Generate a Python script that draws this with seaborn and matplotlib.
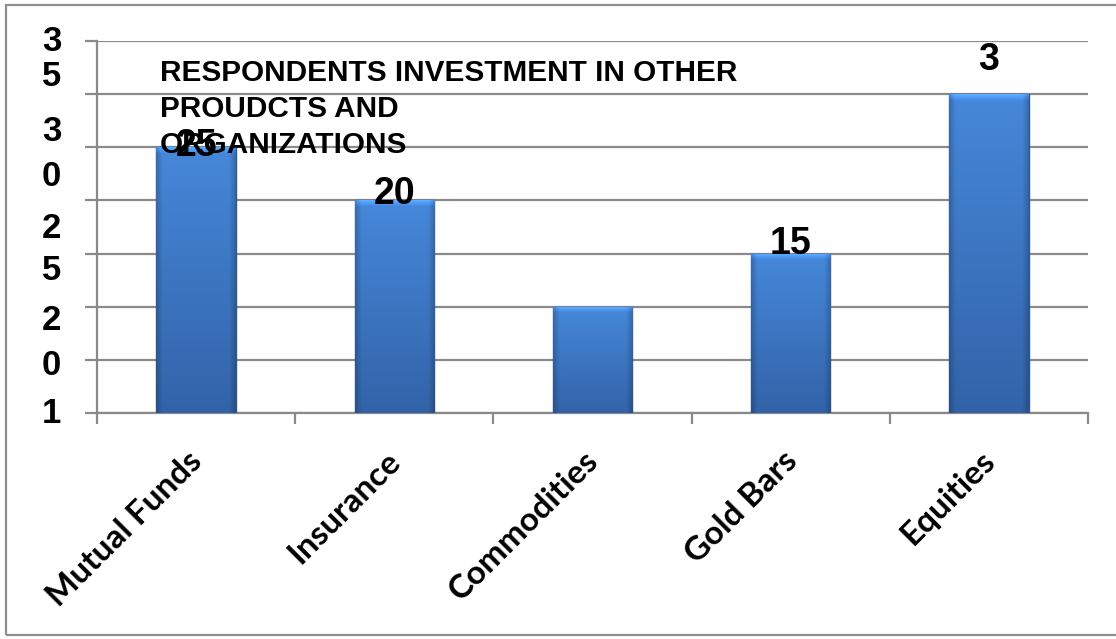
import numpy as np
import matplotlib
matplotlib.use("Agg")
import matplotlib.pyplot as plt
from matplotlib.patches import Rectangle
from matplotlib.transforms import ScaledTranslation
import seaborn as sns

# Chart data
categories = ["Mutual Funds", "Insurance", "Commodities", "Gold Bars", "Equities"]
values = [25, 20, 10, 15, 30]
value_labels = ["25", "20", "", "15", "3"]
ytick_values = [0, 5, 10, 15, 20, 25, 30, 35]
ytick_chars = ["3", "5", "3", "0", "2", "5", "2", "0", "1"]
title_text = "RESPONDENTS INVESTMENT IN OTHER\nPROUDCTS AND\nORGANIZATIONS"

sns.set_theme(style="white")
plt.rcParams["font.family"] = ["Liberation Sans", "DejaVu Sans"]

W, H, DPI = 1116, 639, 100
fig = plt.figure(figsize=(W / DPI, H / DPI), dpi=DPI)
fig.patch.set_facecolor("white")

# plot area in pixel terms
left_px, right_px, top_px, bottom_px = 97, 1088, 41, 413
ax = fig.add_axes([left_px / W, 1 - bottom_px / H,
                   (right_px - left_px) / W, (bottom_px - top_px) / H])

grid_col = "#8a8a8a"
sns.barplot(x=categories, y=values, width=0.4, color="#3b78c6",
            edgecolor="#2b5791", linewidth=1.0, ax=ax, zorder=3)

ax.set_xlim(-0.5, len(categories) - 0.5)
ax.set_ylim(0, 35)
ax.set_yticks(ytick_values)
ax.set_yticklabels([])
ax.grid(axis="y", color=grid_col, linewidth=1.6, zorder=0)
ax.set_axisbelow(True)
ax.set_xlabel("")
ax.set_ylabel("")

for s in ["top", "right"]:
    ax.spines[s].set_visible(False)
for s in ["left", "bottom"]:
    ax.spines[s].set_color(grid_col)
    ax.spines[s].set_linewidth(1.6)

ax.tick_params(axis="y", which="major", direction="out", length=8.5,
               width=1.6, color=grid_col, left=True)
ax.set_xticks(np.arange(-0.5, len(categories), 1.0), minor=True)
ax.tick_params(axis="x", which="minor", direction="out", length=8,
               width=1.6, color=grid_col, bottom=True)
ax.set_xticks(range(len(categories)))
ax.set_xticklabels(categories, rotation=45, ha="right", va="center",
                   rotation_mode="anchor", fontsize=24, fontweight="bold",
                   family=["Lato", "DejaVu Sans"], color="black")
ax.tick_params(axis="x", which="major", length=0, pad=31)
for lab in ax.get_xticklabels():
    lab.set_transform(lab.get_transform() + ScaledTranslation(1 / 72, 0, fig.dpi_scale_trans))

# gradient fill over each bar
fig.canvas.draw()
for p in ax.patches:
    x0, y0 = p.get_x(), p.get_y()
    w, h = p.get_width(), p.get_height()
    (px0, py0), (px1, py1) = ax.transData.transform([(x0, y0), (x0 + w, y0 + h)])
    nrows = max(int(round(py1 - py0)), 2)
    ncols = max(int(round(px1 - px0)), 2)
    top_c = np.array([0x46, 0x88, 0xda]) / 255
    bot_c = np.array([0x32, 0x63, 0xa8]) / 255
    t = np.linspace(0, 1, nrows)[:, None]
    col = top_c[None, :] * (1 - t) + bot_c[None, :] * t
    img = np.repeat(col[:, None, :], ncols, axis=1)
    xs = np.linspace(-1, 1, ncols)
    shade = 1 - 0.2 * np.clip((np.abs(xs) - 0.84) / 0.16, 0, 1)
    img = img * shade[None, :, None]
    bevel = min(7, nrows // 3)
    ramp = np.linspace(1.28, 1.0, bevel)
    img[:bevel] = np.clip(img[:bevel] * ramp[:, None, None], 0, 1)
    im = ax.imshow(img, extent=[x0, x0 + w, y0, y0 + h], origin="upper",
                   aspect="auto", zorder=3.5, interpolation="bilinear")
    im.set_clip_path(p)
ax.set_xlim(-0.5, len(categories) - 0.5)
ax.set_ylim(0, 35)

# value labels
label_offsets_px = [1, 6, 0, 10, 34]
for i, (v, txt, off) in enumerate(zip(values, value_labels, label_offsets_px)):
    if txt:
        ax.annotate(txt, xy=(i, v), xytext=(0, off * 0.72), textcoords="offset points",
                    ha="center", va="center", fontsize=27, fontweight="bold",
                    color="black", zorder=5)

# broken-up y labels, one character per line
ychar_pos_px = [38, 73, 128, 173, 225, 267, 317, 362, 410]
for ch, ypx in zip(ytick_chars, ychar_pos_px):
    ax.text(-0.046, (bottom_px - ypx) / (bottom_px - top_px), ch,
            transform=ax.transAxes, ha="center", va="center_baseline",
            fontsize=25, fontweight="bold", color="black")

# title inside the plot area
ax.text((160 - left_px) / (right_px - left_px), (bottom_px - 59) / (bottom_px - top_px),
        title_text, transform=ax.transAxes, ha="left", va="top",
        fontsize=21.4, fontweight="bold", linespacing=1.36, color="black", zorder=6)

# chart frame
fig.patches.append(Rectangle((6 / W, 4 / H), 1.2, 1 - 8.5 / H, transform=fig.transFigure,
                             fill=False, edgecolor="#8f8f8f", linewidth=1.6, zorder=0))

fig.savefig("out.png", dpi=DPI, facecolor="white")
